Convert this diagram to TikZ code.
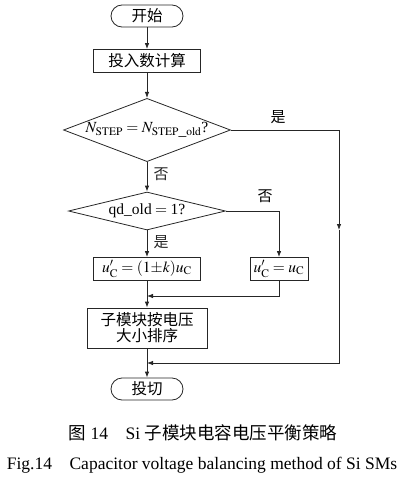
\documentclass[tikz,border=0pt]{standalone}
\usepackage{mathptmx}
\usepackage{fontspec}
\setmainfont{Liberation Serif}
\newfontfamily\cjk{Noto Sans CJK SC}
\usetikzlibrary{arrows.meta,shapes.geometric}

\begin{document}
\begin{tikzpicture}[
      x = 1pt, y = -1pt,
      wire/.style={line width = 0.8pt, black!85},
      flow/.style={wire, -{Latex[length = 6pt, width = 4.5pt]}},
      proc/.style={
        draw = black!85,
        line width = 0.8pt,
        minimum width = 107pt,
        minimum height = 23pt,
        inner sep = 1pt,
        align = center,
        font = \cjk\fontsize{15.5}{19}\selectfont,
      },
      term/.style={proc, rounded corners = 11pt, minimum width = 72pt, minimum height = 22pt},
      decision/.style={
        draw = black!85,
        line width = 0.8pt,
        diamond,
        inner sep = 0pt,
        font = \fontsize{15.5}{18}\selectfont,
      },
      branch/.style={font = \cjk\fontsize{15}{17}\selectfont},
      caption/.style={font = \fontsize{17.5}{21}\selectfont},
    ]
    \useasboundingbox (0, 0) rectangle (411, 479);

    \node[term] (start) at (147, 16) {开始};
    \node[proc] (count) at (147, 61) {投入数计算};
    \node[decision, aspect = 2.53, minimum width = 167pt] (chk1) at (147, 130)
      {$N_{\mathrm{STEP}} = N_{\mathrm{STEP\_old}}$?};
    \node[decision, aspect = 3.2, minimum width = 157pt] (chk2) at (147, 211)
      {qd\_old${}={}$1?};
    \node[proc] (scale) at (147, 269) {\fontsize{15.5}{18}\selectfont$u'_{\mathrm{C}} = (1{\pm}k)u_{\mathrm{C}}$};
    \node[proc, minimum width = 58pt] (keep) at (279, 269) {\fontsize{15.5}{18}\selectfont$u'_{\mathrm{C}} = u_{\mathrm{C}}$};
    \node[proc, minimum width = 120pt, minimum height = 40pt] (sort) at (147, 328) {子模块按电压\\[-3pt]大小排序};
    \node[term] (cut) at (147, 389) {投切};

    \coordinate (turn1) at (339, 130);
    \coordinate (midR) at (339, 230);
    \coordinate (turn2) at (339, 363);
    \coordinate (join2) at (147, 363);
    \coordinate (turn3) at (279, 211);
    \coordinate (turn4) at (279, 296);
    \coordinate (join1) at (147, 296);

    \draw[flow] (start) -- (count);
    \draw[flow] (count) -- (chk1);
    \draw[flow] (chk1) -- (chk2) node[branch, pos = 0.4, right = 3pt] {否};
    \draw[flow] (chk2) -- (scale) node[branch, pos = 0.45, right = 3pt] {是};
    \draw[flow] (chk2.east) -- (turn3) -- (keep);
    \node[branch] (no2) at (265, 196) {否};
    \draw[flow] (keep) -- (turn4) -- (join1);
    \draw[flow] (scale) -- (sort);
    % right-hand bypass when the count is unchanged
    \draw[flow] (chk1.east) -- (turn1) -- (midR);
    \node[branch] (yes1) at (278, 117) {是};
    \draw[flow] (midR) -- (turn2) -- (join2);
    \draw[flow] (sort) -- (cut);

    \node[caption] (cap1) at (203, 433) {{\cjk 图} 14\quad Si {\cjk 子模块电容电压平衡策略}};
    \node[caption] (cap2) at (202, 465) {Fig.14\quad Capacitor voltage balancing method of Si SMs};
  \end{tikzpicture}
\end{document}
